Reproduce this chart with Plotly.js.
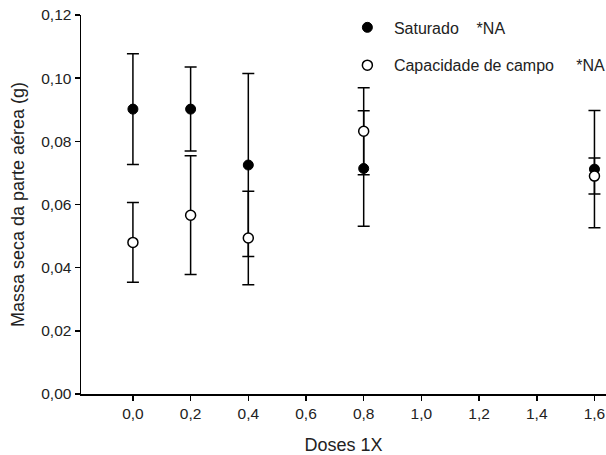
<!DOCTYPE html>
<html>
<head>
<meta charset="utf-8">
<script src="https://cdn.plot.ly/plotly-3.0.1.min.js"></script>
<style>
  html, body { margin: 0; padding: 0; background: #ffffff; }
  #chart { width: 606px; height: 455px; }
</style>
</head>
<body>
<div id="chart"></div>
<script>
// Doses (x) and mean shoot dry mass (g) with symmetric error bars
const doses = [0.0, 0.2, 0.4, 0.8, 1.6];
const saturado = [0.0902, 0.0902, 0.0725, 0.0714, 0.0712];
const saturadoErr = [0.0175, 0.0133, 0.0290, 0.0183, 0.0186];
const capacidade = [0.0480, 0.0566, 0.0494, 0.0832, 0.0690];
const capacidadeErr = [0.0126, 0.0188, 0.0148, 0.0138, 0.0057];

const xTicks = [0.0, 0.2, 0.4, 0.6, 0.8, 1.0, 1.2, 1.4, 1.6];
const yTicks = [0.00, 0.02, 0.04, 0.06, 0.08, 0.10, 0.12];

const font = 'Arial, "Liberation Sans", sans-serif';
const ink = '#222';

const errStyle = { type: 'data', symmetric: true, color: '#000', thickness: 1.5, width: 6 };

const traces = [
  {
    x: doses, y: saturado, type: 'scatter', mode: 'markers',
    name: 'Saturado\u00a0\u00a0\u00a0\u00a0*NA', legendgroup: 'a',
    marker: { symbol: 'circle', size: 10, color: '#000', line: { color: '#000', width: 1 } },
    error_y: Object.assign({ array: saturadoErr }, errStyle)
  },
  {
    x: doses, y: capacidade, type: 'scatter', mode: 'markers',
    name: 'Capacidade de campo\u00a0\u00a0\u00a0\u00a0\u00a0*NA', legendgroup: 'b',
    marker: { symbol: 'circle', size: 10, color: '#fff', line: { color: '#000', width: 1.5 } },
    error_y: Object.assign({ array: capacidadeErr }, errStyle)
  }
];

const layout = {
  width: 606, height: 455,
  margin: { l: 81, r: 0, t: 15, b: 61, autoexpand: false },
  paper_bgcolor: '#fff', plot_bgcolor: '#fff',
  separators: ',.',
  font: { family: font, size: 15.5, color: ink },
  showlegend: true,
  legend: {
    x: 0.495, y: 1.012, xanchor: 'left', yanchor: 'top',
    traceorder: 'grouped', tracegroupgap: 14,
    itemwidth: 43,
    font: { family: font, size: 16, color: ink },
    bgcolor: 'rgba(0,0,0,0)', borderwidth: 0
  },
  xaxis: {
    range: [-0.18, 1.64], tickvals: xTicks, tickformat: '.1f',
    showgrid: false, zeroline: false,
    showline: true, linecolor: '#000', linewidth: 1.5,
    ticks: 'outside', ticklen: 5, tickwidth: 1.5, tickcolor: '#000',
    tickfont: { family: font, size: 15.5, color: ink },
    title: { text: 'Doses 1X', font: { family: font, size: 18, color: ink }, standoff: 22 }
  },
  yaxis: {
    range: [0, 0.12], tickvals: yTicks, tickformat: '.2f',
    showgrid: false, zeroline: false,
    showline: true, linecolor: '#000', linewidth: 1.5,
    ticks: 'outside', ticklen: 5, tickwidth: 1.5, tickcolor: '#000',
    tickfont: { family: font, size: 15.5, color: ink },
    title: { text: 'Massa seca da parte aérea (g)', font: { family: font, size: 18, color: ink }, standoff: 12 }
  }
};

Plotly.newPlot('chart', traces, layout, { staticPlot: true, displayModeBar: false });
</script>
</body>
</html>
